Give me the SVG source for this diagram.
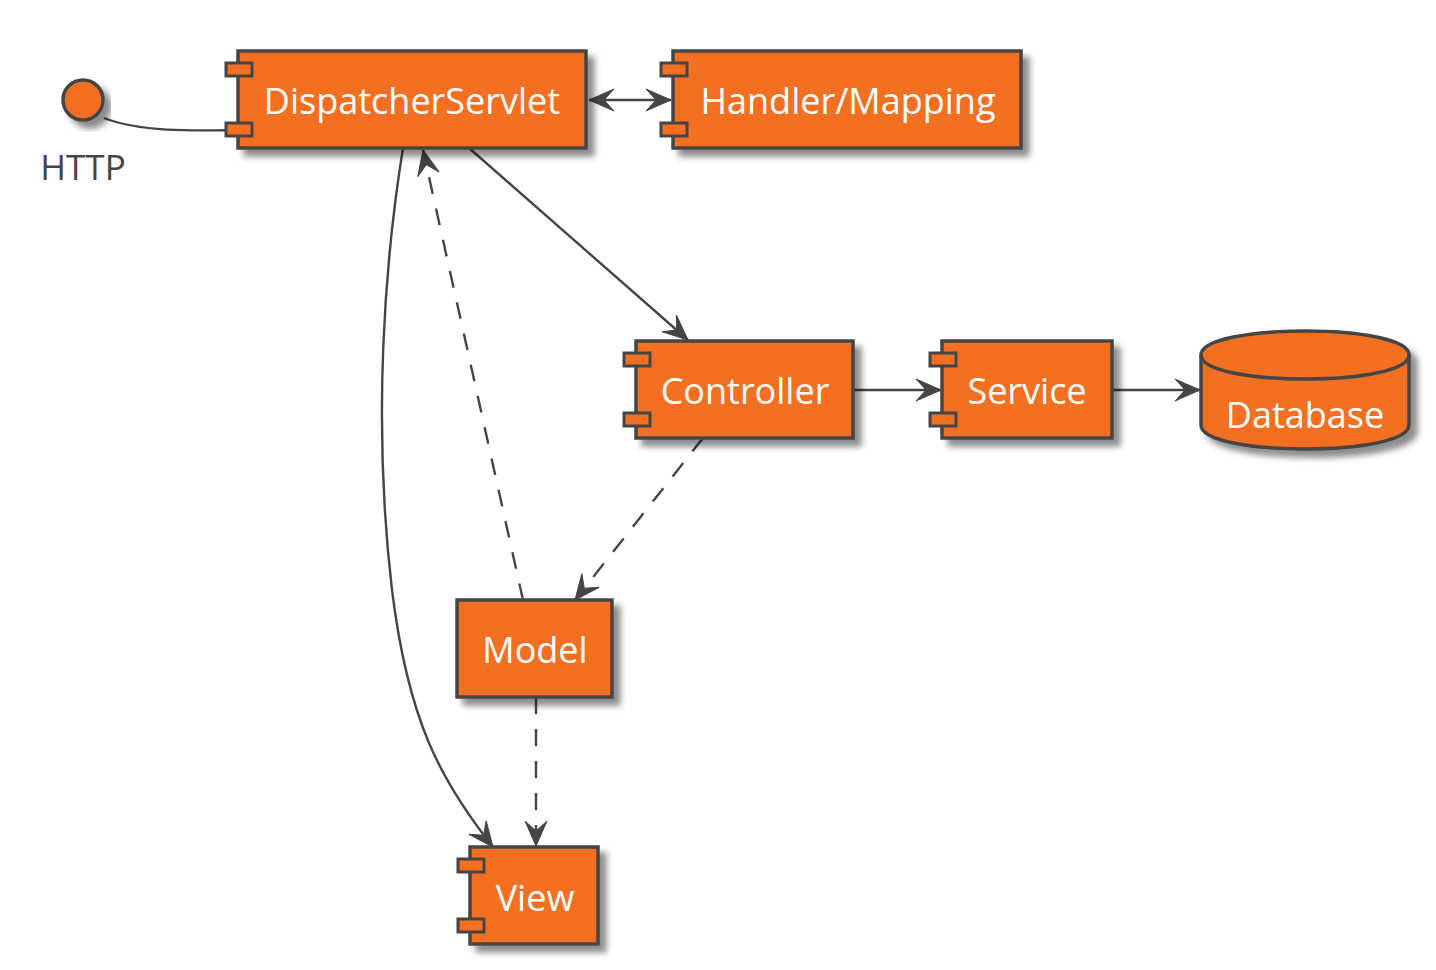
<svg xmlns="http://www.w3.org/2000/svg" width="1436" height="970" viewBox="0 0 1436 970">
<style>
.node{fill:#F37021;stroke:#454545;stroke-width:3.5}
.port{fill:#F37021;stroke:#454545;stroke-width:3}
.lbl{font-family:"Open Sans","Noto Sans","DejaVu Sans",sans-serif;font-size:36px;fill:#FFFFFF;text-anchor:middle}
.ext{font-family:"Open Sans","Noto Sans","DejaVu Sans",sans-serif;font-size:35px;fill:#454545;text-anchor:middle}
.edge{fill:none;stroke:#454545;stroke-width:2.4}
.dash{stroke-dasharray:17,15}
</style>
<defs>
<filter id="sh" x="-10%" y="-10%" width="130%" height="140%">
<feGaussianBlur in="SourceAlpha" stdDeviation="3"/>
<feOffset dx="7" dy="7" result="b"/>
<feComponentTransfer><feFuncA type="linear" slope="0.45"/></feComponentTransfer>
<feMerge><feMergeNode/><feMergeNode in="SourceGraphic"/></feMerge>
</filter>
<marker id="ah" markerUnits="userSpaceOnUse" markerWidth="34" markerHeight="28" viewBox="-28 -14 34 28" refX="0" refY="0" orient="auto-start-reverse">
<path d="M0,0 L-25,-11 L-15,0 L-25,11 Z" fill="#454545" stroke="#454545" stroke-width="1"/>
</marker>
</defs>
<rect width="1436" height="970" fill="#FFFFFF"/>

<g id="connectors">
<path class="edge" d="M104,118 C140,132 190,131 244,130"/>
<line class="edge" x1="589" y1="100" x2="671" y2="100" marker-start="url(#ah)" marker-end="url(#ah)"/>
<line class="edge" x1="469" y1="148" x2="688" y2="340" marker-end="url(#ah)"/>
<path class="edge" d="M403,148 C385,260 372,420 392,590 C408,720 440,780 493,847" marker-end="url(#ah)"/>
<line class="edge dash" x1="523" y1="600" x2="423" y2="150" marker-end="url(#ah)"/>
<line class="edge" x1="853" y1="390" x2="941" y2="390" marker-end="url(#ah)"/>
<line class="edge" x1="1112" y1="390" x2="1200" y2="390" marker-end="url(#ah)"/>
<line class="edge dash" x1="703" y1="438" x2="575" y2="600" marker-end="url(#ah)"/>
<line class="edge dash" x1="536" y1="697" x2="536" y2="846" marker-end="url(#ah)"/>
</g>

<g id="http">
<circle cx="83" cy="100" r="20" class="node" filter="url(#sh)"/>
<text class="ext" x="83" y="180">HTTP</text>
</g>

<g id="dispatcher">
<rect x="238" y="51" width="348" height="97" class="node" filter="url(#sh)"/>
<rect x="226" y="63" width="26" height="13" class="port"/>
<rect x="226" y="123" width="26" height="13" class="port"/>
<text class="lbl" x="412" y="114">DispatcherServlet</text>
</g>

<g id="handler">
<rect x="673" y="51" width="348" height="97" class="node" filter="url(#sh)"/>
<rect x="661" y="63" width="26" height="13" class="port"/>
<rect x="661" y="123" width="26" height="13" class="port"/>
<text class="lbl" x="848" y="114">Handler/Mapping</text>
</g>

<g id="controller">
<rect x="636" y="341" width="217" height="97" class="node" filter="url(#sh)"/>
<rect x="624" y="353" width="26" height="13" class="port"/>
<rect x="624" y="413" width="26" height="13" class="port"/>
<text class="lbl" x="745" y="404">Controller</text>
</g>

<g id="service">
<rect x="942" y="341" width="170" height="97" class="node" filter="url(#sh)"/>
<rect x="930" y="353" width="26" height="13" class="port"/>
<rect x="930" y="413" width="26" height="13" class="port"/>
<text class="lbl" x="1027" y="404">Service</text>
</g>

<g id="database">
<path class="node" filter="url(#sh)" d="M1201,355 C1201,323 1409,323 1409,355 L1409,425 C1409,457 1201,457 1201,425 Z"/>
<path fill="none" stroke="#454545" stroke-width="3.5" d="M1201,355 C1201,387 1409,387 1409,355"/>
<text class="lbl" x="1305" y="428">Database</text>
</g>

<g id="model">
<rect x="457" y="600" width="155" height="97" class="node" filter="url(#sh)"/>
<text class="lbl" x="535" y="663">Model</text>
</g>

<g id="view">
<rect x="470" y="847" width="128" height="97" class="node" filter="url(#sh)"/>
<rect x="458" y="859" width="26" height="13" class="port"/>
<rect x="458" y="919" width="26" height="13" class="port"/>
<text class="lbl" x="535" y="911">View</text>
</g>
</svg>
